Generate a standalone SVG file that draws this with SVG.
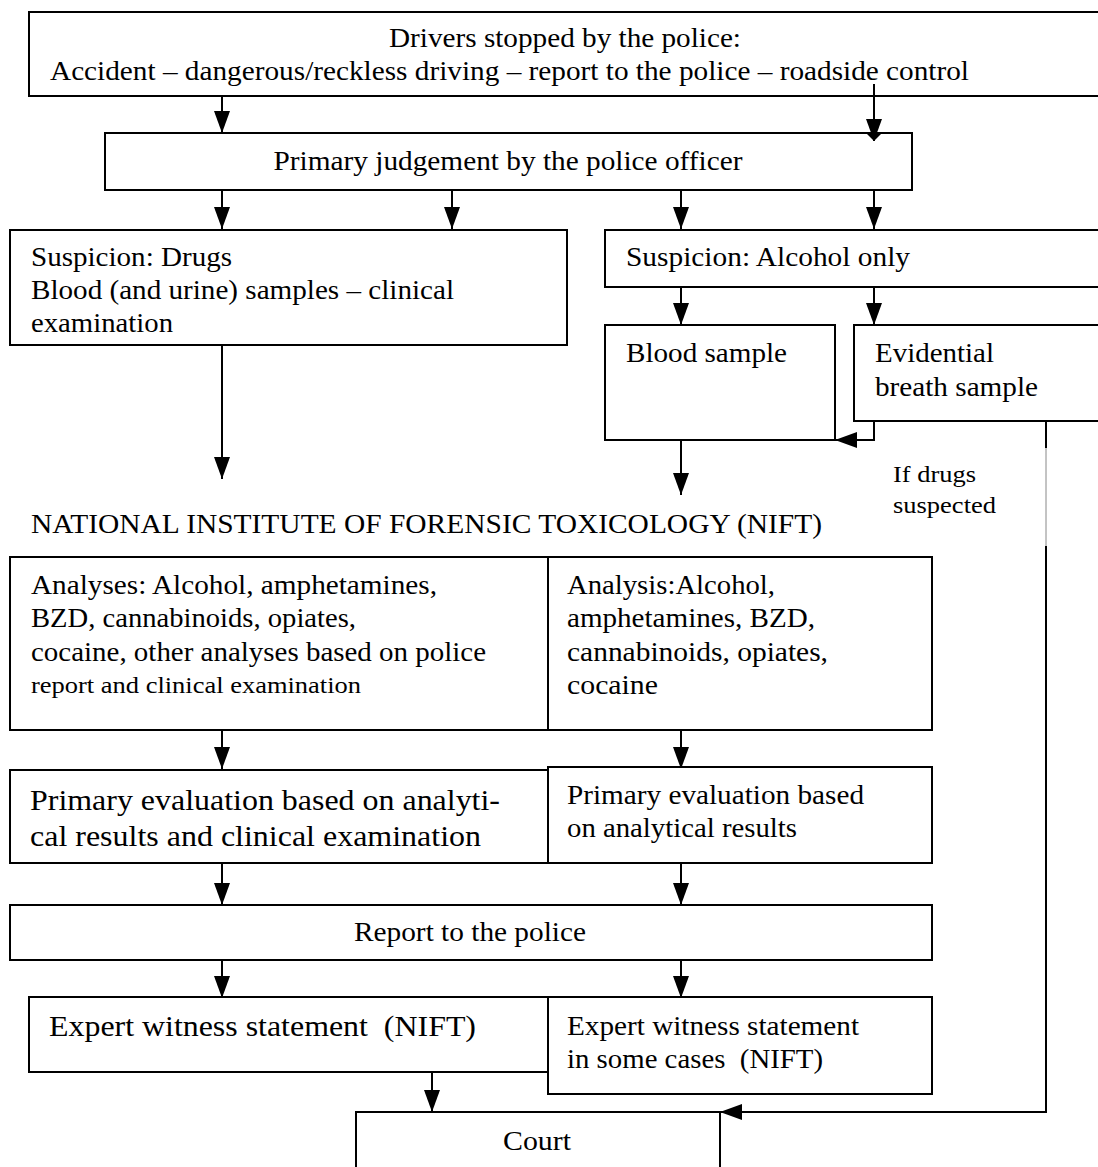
<svg xmlns="http://www.w3.org/2000/svg" width="1098" height="1167" viewBox="0 0 1098 1167">
<style>
  .box { fill: #fff; stroke: #000; stroke-width: 2; }
  .ln { fill: none; stroke: #000; stroke-width: 2; }
  .t { font-family: "Liberation Serif", "Times New Roman", serif; font-size: 27px; fill: #000; }
  .tl { font-family: "Liberation Serif", "Times New Roman", serif; font-size: 30px; fill: #000; }
  .ts { font-family: "Liberation Serif", "Times New Roman", serif; font-size: 23px; fill: #000; }
</style>
<defs>
  <marker id="ah" viewBox="0 0 22 16" markerWidth="22" markerHeight="16" refX="22" refY="8" orient="auto" markerUnits="userSpaceOnUse">
    <path d="M0,0 L22,8 L0,16 z" fill="#000"/>
  </marker>
</defs>
<rect width="1098" height="1167" fill="#fff"/>

<g id="connectors" fill="none" stroke="#000" stroke-width="2">
  <line marker-end="url(#ah)" x1="222" y1="96" x2="222" y2="133"/>
  <line marker-end="url(#ah)" x1="874" y1="84" x2="874" y2="141"/>
  <line marker-end="url(#ah)" x1="222" y1="190" x2="222" y2="229"/>
  <line marker-end="url(#ah)" x1="452" y1="190" x2="452" y2="229"/>
  <line marker-end="url(#ah)" x1="681" y1="190" x2="681" y2="229"/>
  <line marker-end="url(#ah)" x1="874" y1="190" x2="874" y2="229"/>
  <line marker-end="url(#ah)" x1="681" y1="287" x2="681" y2="325"/>
  <line marker-end="url(#ah)" x1="874" y1="287" x2="874" y2="325"/>
  <polyline marker-end="url(#ah)" points="874,421 874,440 835,440"/>
  <line marker-end="url(#ah)" x1="222" y1="345" x2="222" y2="479"/>
  <line marker-end="url(#ah)" x1="681" y1="440" x2="681" y2="495"/>
  <line x1="1046" y1="421" x2="1046" y2="448"/>
  <line x1="1046" y1="448" x2="1046" y2="546" stroke="#888" stroke-width="1"/>
  <polyline marker-end="url(#ah)" points="1046,546 1046,1112 720,1112"/>
  <line marker-end="url(#ah)" x1="222" y1="730" x2="222" y2="769"/>
  <line marker-end="url(#ah)" x1="681" y1="730" x2="681" y2="769"/>
  <line marker-end="url(#ah)" x1="222" y1="863" x2="222" y2="905"/>
  <line marker-end="url(#ah)" x1="681" y1="863" x2="681" y2="905"/>
  <line marker-end="url(#ah)" x1="222" y1="960" x2="222" y2="998"/>
  <line marker-end="url(#ah)" x1="681" y1="960" x2="681" y2="998"/>
  <line marker-end="url(#ah)" x1="432" y1="1072" x2="432" y2="1112"/>
</g>

<g id="drivers">
  <rect class="box" x="29" y="12" width="1075" height="84"/>
  <text class="t" x="565" y="47" text-anchor="middle" textLength="352" lengthAdjust="spacingAndGlyphs">Drivers stopped by the police:</text>
  <text class="t" x="50" y="80" textLength="919" lengthAdjust="spacingAndGlyphs">Accident – dangerous/reckless driving – report to the police – roadside control</text>
</g>
<line class="ln" x1="874" y1="84" x2="874" y2="96"/>

<g id="judgement">
  <rect class="box" x="105" y="133" width="807" height="57"/>
  <text class="t" x="508" y="170" text-anchor="middle" textLength="469" lengthAdjust="spacingAndGlyphs">Primary judgement by the police officer</text>
</g>
<line class="ln" x1="874" y1="133" x2="874" y2="141"/>
<path d="M866,133 L874,141 L882,133 z" fill="#000"/>

<g id="susp-drugs">
  <rect class="box" x="10" y="230" width="557" height="115"/>
  <text class="t" x="31" y="266" textLength="201" lengthAdjust="spacingAndGlyphs">Suspicion: Drugs</text>
  <text class="t" x="31" y="299" textLength="423" lengthAdjust="spacingAndGlyphs">Blood (and urine) samples – clinical</text>
  <text class="t" x="31" y="332" textLength="142" lengthAdjust="spacingAndGlyphs">examination</text>
</g>

<g id="susp-alcohol">
  <rect class="box" x="605" y="230" width="500" height="57"/>
  <text class="t" x="626" y="266" textLength="284" lengthAdjust="spacingAndGlyphs">Suspicion: Alcohol only</text>
</g>

<g id="blood">
  <rect class="box" x="605" y="325" width="230" height="115"/>
  <text class="t" x="626" y="362" textLength="161" lengthAdjust="spacingAndGlyphs">Blood sample</text>
</g>

<g id="breath">
  <rect class="box" x="854" y="325" width="250" height="96"/>
  <text class="t" x="875" y="362" textLength="119" lengthAdjust="spacingAndGlyphs">Evidential</text>
  <text class="t" x="875" y="396" textLength="163" lengthAdjust="spacingAndGlyphs">breath sample</text>
</g>

<g id="if-drugs">
  <text class="ts" x="893" y="482" textLength="83" lengthAdjust="spacingAndGlyphs">If drugs</text>
  <text class="ts" x="893" y="513" textLength="103" lengthAdjust="spacingAndGlyphs">suspected</text>
</g>

<g id="nift">
  <text class="t" x="31" y="533" textLength="791" lengthAdjust="spacingAndGlyphs">NATIONAL INSTITUTE OF FORENSIC TOXICOLOGY (NIFT)</text>
</g>

<g id="analyses-drugs">
  <rect class="box" x="10" y="557" width="538" height="173"/>
  <text class="t" x="31" y="594" textLength="406" lengthAdjust="spacingAndGlyphs">Analyses: Alcohol, amphetamines,</text>
  <text class="t" x="31" y="627" textLength="325" lengthAdjust="spacingAndGlyphs">BZD, cannabinoids, opiates,</text>
  <text class="t" x="31" y="661" textLength="455" lengthAdjust="spacingAndGlyphs">cocaine, other analyses based on police</text>
  <text class="ts" x="31" y="693" textLength="330" lengthAdjust="spacingAndGlyphs">report and clinical examination</text>
</g>

<g id="analyses-alcohol">
  <rect class="box" x="548" y="557" width="384" height="173"/>
  <text class="t" x="567" y="594" textLength="208" lengthAdjust="spacingAndGlyphs">Analysis:Alcohol,</text>
  <text class="t" x="567" y="627" textLength="248" lengthAdjust="spacingAndGlyphs">amphetamines, BZD,</text>
  <text class="t" x="567" y="661" textLength="261" lengthAdjust="spacingAndGlyphs">cannabinoids, opiates,</text>
  <text class="t" x="567" y="694" textLength="91" lengthAdjust="spacingAndGlyphs">cocaine</text>
</g>

<g id="eval-drugs">
  <rect class="box" x="10" y="770" width="538" height="93"/>
  <text class="tl" x="30" y="810" textLength="470" lengthAdjust="spacingAndGlyphs">Primary evaluation based on analyti-</text>
  <text class="tl" x="30" y="846" textLength="451" lengthAdjust="spacingAndGlyphs">cal results and clinical examination</text>
</g>

<g id="eval-alcohol">
  <rect class="box" x="548" y="767" width="384" height="96"/>
  <text class="t" x="567" y="804" textLength="297" lengthAdjust="spacingAndGlyphs">Primary evaluation based</text>
  <text class="t" x="567" y="837" textLength="230" lengthAdjust="spacingAndGlyphs">on analytical results</text>
</g>

<g id="report">
  <rect class="box" x="10" y="905" width="922" height="55"/>
  <text class="t" x="470" y="941" text-anchor="middle" textLength="232" lengthAdjust="spacingAndGlyphs">Report to the police</text>
</g>

<g id="expert-drugs">
  <rect class="box" x="29" y="997" width="519" height="75"/>
  <text class="tl" x="49" y="1036" textLength="427" lengthAdjust="spacingAndGlyphs">Expert witness statement&#160; (NIFT)</text>
</g>

<g id="expert-alcohol">
  <rect class="box" x="548" y="997" width="384" height="97"/>
  <text class="t" x="567" y="1035" textLength="292" lengthAdjust="spacingAndGlyphs">Expert witness statement</text>
  <text class="t" x="567" y="1068" textLength="256" lengthAdjust="spacingAndGlyphs">in some cases&#160; (NIFT)</text>
</g>

<g id="court">
  <rect class="box" x="356" y="1112" width="364" height="70"/>
  <text class="t" x="537" y="1150" text-anchor="middle" textLength="68" lengthAdjust="spacingAndGlyphs">Court</text>
</g>
</svg>
